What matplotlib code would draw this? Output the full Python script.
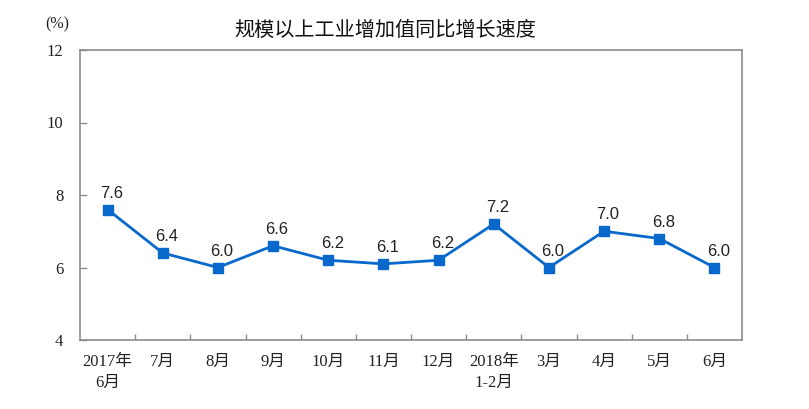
import matplotlib
matplotlib.use("Agg")
import matplotlib.pyplot as plt
from matplotlib.ticker import FixedLocator, NullFormatter

categories = ["2017年\n6月", "7月", "8月", "9月", "10月", "11月", "12月",
              "2018年\n1-2月", "3月", "4月", "5月", "6月"]
values = [7.6, 6.4, 6.0, 6.6, 6.2, 6.1, 6.2, 7.2, 6.0, 7.0, 6.8, 6.0]
yticks = [4, 6, 8, 10, 12]
title = "规模以上工业增加值同比增长速度"
unit = "(%)"

tick_family = ["Liberation Serif", "Noto Sans CJK SC"]
label_family = ["Liberation Sans", "Noto Sans CJK SC"]

fig = plt.figure(figsize=(8.09, 4.09), dpi=100)
ax = fig.add_axes([80 / 809, 1 - 340 / 409, 662 / 809, 290 / 409])

x = list(range(len(values)))
ax.plot(x, values, color="#0868cc", linewidth=2.0, marker="s",
        markersize=6.5, markerfacecolor="#0868cc", markeredgecolor="#0868cc",
        zorder=3)
for xi, v in zip(x, values):
    ax.annotate(f"{v:.1f}", (xi, v), xytext=(4, 9), textcoords="offset pixels",
                ha="center", va="bottom", fontsize=12, color="#222222",
                family=label_family)

ax.set_xlim(-0.5, len(values) - 0.5)
ax.set_ylim(yticks[0], yticks[-1])
ax.set_yticks(yticks)
ax.set_yticklabels([str(t) for t in yticks], family=tick_family, fontsize=12,
                   color="#222222")

ax.set_xticks(x)
ax.set_xticklabels(categories, family=tick_family, fontsize=12, color="#222222",
                   linespacing=1.45)
ax.tick_params(axis="x", which="major", length=0, pad=10)
ax.xaxis.set_minor_locator(FixedLocator([i + 0.5 for i in range(len(values) - 1)]))
ax.xaxis.set_minor_formatter(NullFormatter())
ax.tick_params(axis="x", which="minor", direction="in", length=4, width=1,
               color="#8c8c8c")
ax.tick_params(axis="y", direction="in", length=5, width=1, color="#8c8c8c",
               pad=12)

for s in ax.spines.values():
    s.set_color("#8c8c8c")
    s.set_linewidth(1.2)

fig.text(385 / 809, 1 - 30 / 409, title, ha="center", va="center",
         fontsize=14.5, family=["Noto Sans CJK SC"], color="#111111")
fig.text(57 / 809, 1 - 24 / 409, unit, ha="center", va="center",
         fontsize=11.5, family=tick_family, color="#222222")

fig.savefig("out.png", dpi=100)
